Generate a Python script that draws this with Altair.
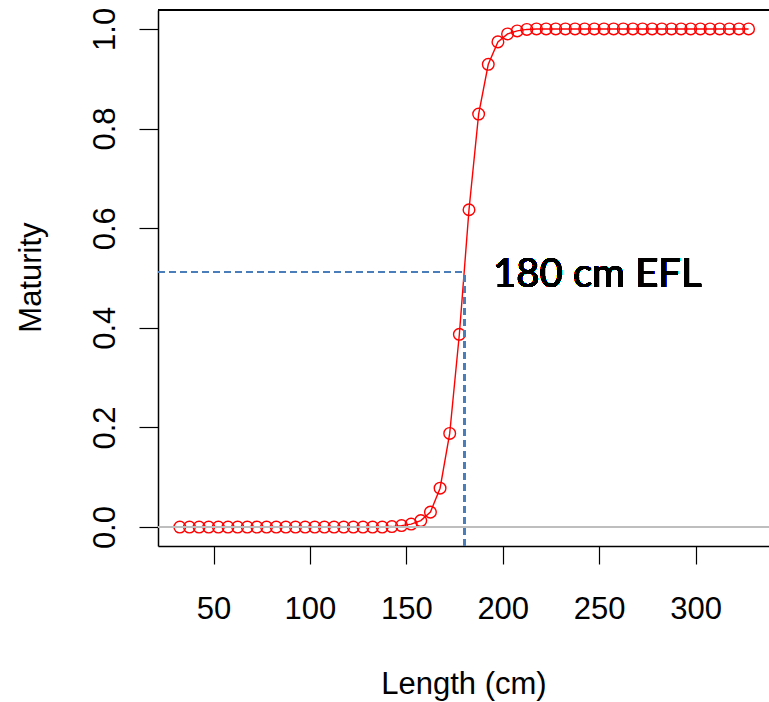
import altair as alt
import pandas as pd

# ---- data ----
length_cm = [32.5, 37.5, 42.5, 47.5, 52.5, 57.5, 62.5, 67.5, 72.5, 77.5,
             82.5, 87.5, 92.5, 97.5, 102.5, 107.5, 112.5, 117.5, 122.5, 127.5,
             132.5, 137.5, 142.5, 147.5, 152.5, 157.5, 162.5, 167.5, 172.5, 177.5,
             182.5, 187.5, 192.5, 197.5, 202.5, 207.5, 212.5, 217.5, 222.5, 227.5,
             232.5, 237.5, 242.5, 247.5, 252.5, 257.5, 262.5, 267.5, 272.5, 277.5,
             282.5, 287.5, 292.5, 297.5, 302.5, 307.5, 312.5, 317.5, 322.5, 327.5]
maturity = [0.0, 0.0, 0.0, 0.0, 0.0, 0.0, 0.0, 0.0, 0.0, 0.0,
            0.0, 0.0, 0.0, 0.0, 0.0, 0.0, 0.0, 0.0, 0.0, 0.0,
            0.0, 0.0, 0.001, 0.003, 0.006, 0.013, 0.030, 0.078, 0.188, 0.387,
            0.637, 0.829, 0.929, 0.974, 0.990, 0.996, 0.999, 1.0, 1.0, 1.0,
            1.0, 1.0, 1.0, 1.0, 1.0, 1.0, 1.0, 1.0, 1.0, 1.0,
            1.0, 1.0, 1.0, 1.0, 1.0, 1.0, 1.0, 1.0, 1.0, 1.0]
x_ticks = [50, 100, 150, 200, 250, 300]
y_ticks = [0.0, 0.2, 0.4, 0.6, 0.8, 1.0]
L50 = 180
P50 = 0.512
label_text = "180 cm EFL"

# ---- layout constants ----
X_DOMAIN = [21.2, 338.1]
Y_DOMAIN = [-0.038, 1.038]
LABEL_X = 195
LABEL_Y = 0.482
FONT = "Liberation Sans"

df = pd.DataFrame({"length": length_cm, "maturity": maturity})

xscale = alt.Scale(domain=X_DOMAIN, nice=False, zero=False)
yscale = alt.Scale(domain=Y_DOMAIN, nice=False, zero=False)

x_enc = alt.X("length:Q", scale=xscale,
              axis=alt.Axis(values=x_ticks, title="Length (cm)", grid=False,
                            tickSize=18, labelPadding=54, labelBaseline="alphabetic",
                            titleY=147, titleBaseline="alphabetic"))
y_enc = alt.Y("maturity:Q", scale=yscale,
              axis=alt.Axis(values=y_ticks, format=".1f", title="Maturity", grid=False,
                            tickSize=19, labelAngle=270, labelAlign="center",
                            labelBaseline="alphabetic", labelPadding=25,
                            titleAngle=270, titleAlign="center", titleBaseline="alphabetic",
                            titleX=-118, titleY=267))

base = alt.Chart(df)

line = base.mark_line(color="red", strokeWidth=1.4).encode(x=x_enc, y=y_enc)
points = base.mark_point(shape="circle", filled=False, color="red", size=135,
                         strokeWidth=1.4, opacity=1).encode(x=x_enc, y=y_enc)

zero_line = alt.Chart(df).mark_rule(color="#bebebe", strokeWidth=1.5).encode(
    y=alt.datum(0))
top_line = alt.Chart(df).mark_rule(color="black", strokeWidth=1.5).encode(
    y=alt.datum(Y_DOMAIN[1]))
h_dash = alt.Chart(df).mark_rule(color="#4A7EBB", strokeWidth=2, strokeDash=[7, 4]).encode(
    x=alt.datum(X_DOMAIN[0]), x2=alt.datum(L50), y=alt.datum(P50))
v_dash = alt.Chart(df).mark_rule(color="#4A7EBB", strokeWidth=2, strokeDash=[7, 4]).encode(
    x=alt.datum(L50), y=alt.datum(Y_DOMAIN[0]), y2=alt.datum(P50))
label = alt.Chart(df).mark_text(font="Lato", fontSize=40, fontWeight="normal", align="left",
                                baseline="alphabetic", color="black").encode(
    x=alt.datum(LABEL_X), y=alt.datum(LABEL_Y), text=alt.value(label_text))

chart = alt.layer(line, points, zero_line, top_line, h_dash, v_dash, label).properties(
    width=611, height=536,
    autosize=alt.AutoSizeParams(type="none"),
    padding={"left": 158, "top": 10, "right": 0, "bottom": 156},
    background="white",
).configure_view(stroke=None).configure_axis(
    domainColor="black", domainWidth=1.5, tickColor="black", tickWidth=1.2,
    labelFont=FONT, labelFontSize=31, labelColor="black",
    titleFont=FONT, titleFontSize=31, titleColor="black", titleFontWeight="normal",
)

chart.save("out.html", embed_options={"renderer": "svg", "actions": False})
